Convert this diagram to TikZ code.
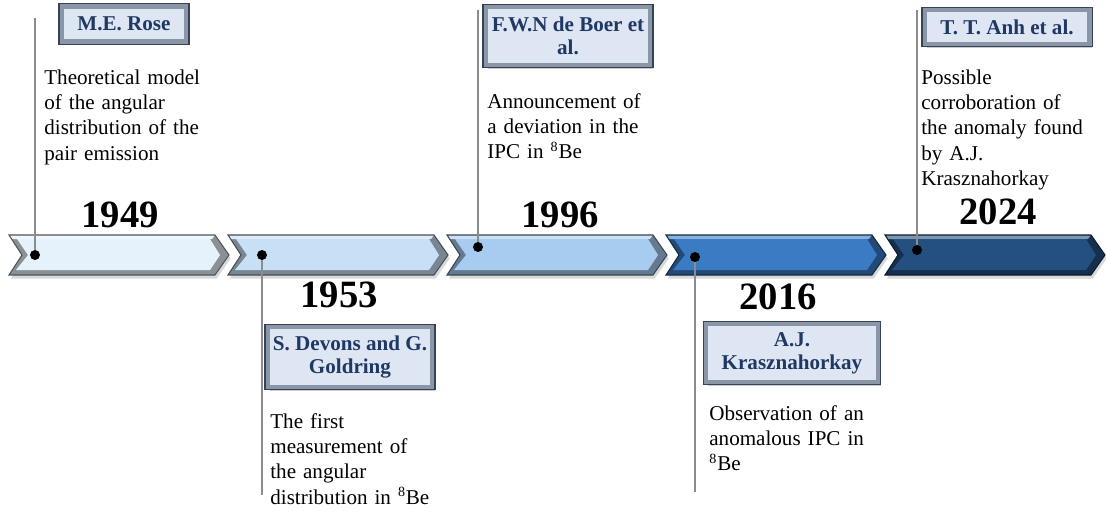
\documentclass[tikz,border=0pt]{standalone}
\usepackage{fontspec}
\setmainfont{Liberation Serif}
\usetikzlibrary{shadows}

\definecolor{ribbonA}{HTML}{E5F2FC}
\definecolor{ribbonB}{HTML}{C8E0F6}
\definecolor{ribbonC}{HTML}{A8CCEF}
\definecolor{ribbonD}{HTML}{3A7BC4}
\definecolor{ribbonE}{HTML}{23507F}
\definecolor{boxface}{HTML}{DDE6F2}
\definecolor{boxrim}{HTML}{8A95A6}
\definecolor{boxline}{HTML}{34425A}
\definecolor{titleblue}{HTML}{1F3864}
\definecolor{stemgrey}{HTML}{8C8C8C}

% one arrow piece of the ribbon, #1 = left x, #2 = face colour
\newcommand{\chevron}[2]{%
  \fill[#2!60!black, drop shadow={shadow xshift=1pt, shadow yshift=-2pt, opacity=0.3}]
    (#1, 235) -- ({#1+206}, 235) -- ({#1+220}, 255) -- ({#1+206}, 275) -- (#1, 275) -- ({#1+13}, 255) -- cycle;
  \fill[#2!60!white] (#1, 235) -- ({#1+206}, 235) -- ({#1+203}, 239) -- ({#1+3}, 239) -- cycle;
  \fill[#2] ({#1+8}, 239) -- ({#1+201}, 239) -- ({#1+211}, 255) -- ({#1+201}, 270) -- ({#1+7}, 270) -- ({#1+19}, 255) -- cycle;
  \draw[#2!35!black, line width=0.6pt]
    (#1, 235) -- ({#1+206}, 235) -- ({#1+220}, 255) -- ({#1+206}, 275) -- (#1, 275) -- ({#1+13}, 255) -- cycle;
}

\begin{document}
\begin{tikzpicture}[x=0.02cm, y=-0.02cm,
    dot/.style={circle, fill=black, inner sep=0pt, minimum size=0.2cm},
    stem/.style={draw=stemgrey, line width=0.6pt},
    year/.style={anchor=base, inner sep=0pt, font=\bfseries\fontsize{22}{22}\selectfont},
    titlebox/.style={fill=boxface, draw=boxrim, line width=2.6pt, align=center, inner sep=1pt,
        text=titleblue, font=\bfseries\fontsize{12}{13}\selectfont,
        drop shadow={shadow xshift=1.5pt, shadow yshift=-2pt, opacity=0.4}},
    rim/.style={draw=boxline, line width=0.6pt},
    desc/.style={anchor=base west, align=left, inner sep=0pt, text width=4cm,
        font=\fontsize{12}{14.5}\selectfont}]
        \useasboundingbox (0, 0) rectangle (1106, 511);

        \chevron{9}{ribbonA}
        \chevron{228}{ribbonB}
        \chevron{447}{ribbonC}
        \chevron{666}{ribbonD}
        \chevron{885}{ribbonE}

        \node [dot] at (35, 255) (d1) {};
        \node [dot] at (262, 255) (d2) {};
        \node [dot] at (478, 247) (d3) {};
        \node [dot] at (695, 257) (d4) {};
        \node [dot] at (917, 250) (d5) {};

        \coordinate (t1) at (35, 18);
        \coordinate (t2) at (262, 495);
        \coordinate (t3) at (478, 10);
        \coordinate (t4) at (695, 492);
        \coordinate (t5) at (917, 10);

        \draw [stem] (d1) -- (t1);
        \draw [stem] (d2) -- (t2);
        \draw [stem] (d3) -- (t3);
        \draw [stem] (d4) -- (t4);
        \draw [stem] (d5) -- (t5);

        \node [year] at (120, 227) (y1) {1949};
        \node [year] at (339, 307) (y2) {1953};
        \node [year] at (560, 227) (y3) {1996};
        \node [year] at (778, 309) (y4) {2016};
        \node [year] at (998, 224) (y5) {2024};

        \node [titlebox, minimum width=2.51cm, minimum height=0.71cm] at (124, 24) (b1) {M.E. Rose};
        \node [titlebox, minimum width=3.31cm, minimum height=1.21cm] at (350, 357) (b2) {S. Devons and G.\\Goldring};
        \node [titlebox, minimum width=3.31cm, minimum height=1.17cm] at (568, 36) (b3) {F.W.N de Boer et\\al.};
        \node [titlebox, minimum width=3.45cm, minimum height=1.17cm] at (792, 353) (b4) {A.J.\\Krasznahorkay};
        \node [titlebox, minimum width=3.31cm, minimum height=0.69cm] at (1007, 27) (b5) {T. T. Anh et al.};
        \draw [rim] (b1.south west) rectangle (b1.north east);
        \draw [rim] (b2.south west) rectangle (b2.north east);
        \draw [rim] (b3.south west) rectangle (b3.north east);
        \draw [rim] (b4.south west) rectangle (b4.north east);
        \draw [rim] (b5.south west) rectangle (b5.north east);

        \node [desc] at (44, 84) (n1) {Theoretical model\\of the angular\\distribution of  the\\pair emission};
        \node [desc] at (270, 428) (n2) {The first\\measurement of\\the angular\\distribution in \textsuperscript{8}Be};
        \node [desc] at (487, 108) (n3) {Announcement of\\a deviation in the\\IPC in \textsuperscript{8}Be};
        \node [desc] at (709, 420) (n4) {Observation of an\\anomalous IPC in\\\textsuperscript{8}Be};
        \node [desc] at (921, 84) (n5) {Possible\\corroboration of\\the anomaly found\\by A.J.\\Krasznahorkay};
\end{tikzpicture}
\end{document}
